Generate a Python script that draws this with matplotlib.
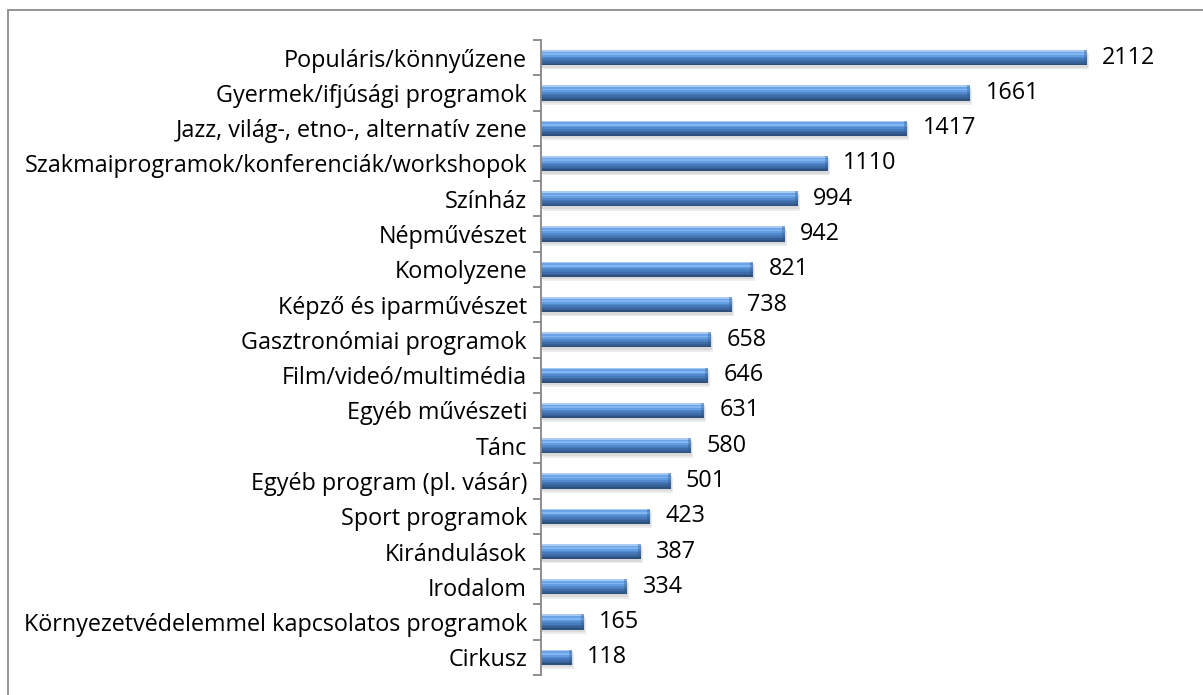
import matplotlib
matplotlib.use("Agg")
import matplotlib.pyplot as plt
from matplotlib.patches import Rectangle
import numpy as np

categories = [
    "Populáris/könnyűzene",
    "Gyermek/ifjúsági programok",
    "Jazz, világ-, etno-, alternatív zene",
    "Szakmaiprogramok/konferenciák/workshopok",
    "Színház",
    "Népművészet",
    "Komolyzene",
    "Képző és iparművészet",
    "Gasztronómiai programok",
    "Film/videó/multimédia",
    "Egyéb művészeti",
    "Tánc",
    "Egyéb program (pl. vásár)",
    "Sport programok",
    "Kirándulások",
    "Irodalom",
    "Környezetvédelemmel kapcsolatos programok",
    "Cirkusz",
]
values = [2112, 1661, 1417, 1110, 994, 942, 821, 738, 658, 646, 631, 580, 501, 423, 387, 334, 165, 118]

plt.rcParams['font.family'] = ['Open Sans', 'DejaVu Sans']

W, H = 1203, 695
fig = plt.figure(figsize=(W / 100, H / 100), dpi=100)
fig.patches.append(Rectangle((8 / W, -0.1), 1.2, (H - 10) / H + 0.1, transform=fig.transFigure,
                             fill=False, edgecolor='#8c8c8c', linewidth=1.3, zorder=0))

left_px, right_px, top_px, bot_px = 541, 1150, 40, 675
ax = fig.add_axes([left_px / W, (H - bot_px) / H, (right_px - left_px) / W, (bot_px - top_px) / H])
ax.patch.set_alpha(0)

y = np.arange(len(categories))
scale = (1087 - 541) / 2112.0
xmax = (right_px - left_px) / scale
h = 0.43
vals = np.array(values, dtype=float)

# soft shadow below the bars
ax.barh(y + 0.12, vals, height=h, left=2 / scale, color='#ececec', linewidth=0, zorder=1)
ax.barh(y + 0.07, vals, height=h, left=1 / scale, color='#dadada', linewidth=0, zorder=1)

# bevelled bar: stacked horizontal strips, top to bottom
profile = ['#a9cbf2', '#6aa3e8', '#80b6f2', '#659de2', '#5289cc', '#477abb',
           '#3d6ca8', '#355f94', '#2c4f7c']
n = len(profile)
sh = h / n
for i, c in enumerate(profile):
    ax.barh(y - h / 2 + sh * (i + 0.5), vals, height=sh * 1.02, color=c, linewidth=0, zorder=2)

# right-end bevel
bev = 3 / scale
ax.barh(y, np.full_like(vals, bev), left=vals - bev, height=h, color='#2f5786', alpha=0.35,
        linewidth=0, zorder=3)

fs = 16.8
for yi, v in zip(y, values):
    ax.annotate(str(v), (v, yi), xytext=(11, 0), textcoords='offset points',
                va='center', ha='left', fontsize=fs, color='black')

ax.set_xlim(0, xmax)
ax.set_ylim(len(categories) - 0.5, -0.5)
ax.set_yticks(y)
ax.set_yticklabels(categories, fontsize=fs)
ax.set_yticks(np.arange(len(categories) + 1) - 0.5, minor=True)
ax.tick_params(axis='y', which='major', length=0, pad=10)
ax.tick_params(axis='y', which='minor', length=6, color='#868686', width=1.3)
ax.set_xticks([])
for s in ['top', 'right', 'bottom']:
    ax.spines[s].set_visible(False)
ax.spines['left'].set_color('#868686')
ax.spines['left'].set_linewidth(1.3)
ax.spines['left'].set_zorder(5)

fig.savefig('out.png', dpi=100)
